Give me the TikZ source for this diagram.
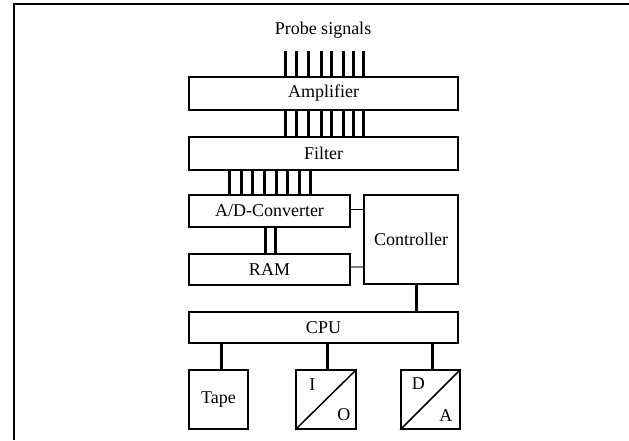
\documentclass[tikz,border=0pt]{standalone}
\usepackage{fontspec}
\setmainfont{Liberation Serif}
\begin{document}
\begin{tikzpicture}[x=1pt,y=-1pt,
  box/.style={draw,line width=1.5pt,inner sep=0pt,font=\fontsize{18}{20}\selectfont},
  lbl/.style={inner sep=0pt,font=\fontsize{18}{20}\selectfont},
  bus/.style={line width=3pt},
  thin/.style={line width=1.5pt}]
\useasboundingbox (0,0) rectangle (629,440);
% frame
\draw[line width=1.6pt] (14,440) -- (14,4) -- (629,4);
% title
\node[lbl] (title) at (323,30) {Probe signals};
% boxes
\node[box,minimum width=269pt,minimum height=33pt] (amp) at (323.5,93.5) {Amplifier};
\node[box,minimum width=269pt,minimum height=33pt] (filt) at (323.5,153.5) {Filter};
\node[box,minimum width=161pt,minimum height=32pt] (ad) at (269.5,211) {A/D-Converter};
\node[box,minimum height=31pt,minimum width=161pt] (ram) at (269.5,269.5) {RAM};
\node[box,minimum width=94pt,minimum height=89pt] (ctrl) at (411,239.5) {Controller};
\node[box,minimum width=269pt,minimum height=31pt] (cpu) at (323.5,327.5) {CPU};
\node[box,minimum width=59pt,minimum height=59pt] (tape) at (218.5,399.5) {Tape};
\node[box,minimum width=60pt,minimum height=59pt] (io) at (326,399.5) {};
\node[box,minimum width=59pt,minimum height=59pt] (da) at (430.5,399.5) {};
% diagonals and letters
\draw[thin] (io.south west) -- (io.north east);
\draw[thin] (da.south west) -- (da.north east);
\node[lbl] (li) at ([shift={(17pt,-15pt)}]io.north west) {I};
\node[lbl] (lo) at ([shift={(-13pt,15pt)}]io.south east) {O};
\node[lbl] (ld) at ([shift={(18pt,-14pt)}]da.north west) {D};
\node[lbl] (la) at ([shift={(-15pt,14pt)}]da.south east) {A};
% probe signal lines
\foreach \x in {97,108,120.5,133,143,155,165.5,175.5}{
  \coordinate (p) at ([xshift=\x pt,yshift=25pt]amp.north west);
  \draw[bus] (p) -- (p |- amp.north);
}
% amplifier to filter
\foreach \x in {97,108,120.5,133,143,155,165.5,175.5}{
  \draw[bus] ([xshift=\x pt]amp.south west) -- ([xshift=\x pt]filt.north west);
}
% filter to A/D
\foreach \x in {41,53,64,76,88,99,111,122}{
  \draw[bus] ([xshift=\x pt]filt.south west) -- ([xshift=\x pt]ad.north west);
}
% A/D to RAM
\foreach \x in {77,87}{
  \draw[bus] ([xshift=\x pt]ad.south west) -- ([xshift=\x pt]ram.north west);
}
% A/D to controller
\draw[thin] ([yshift=-15pt]ad.north east) coordinate (a1) -- (a1 -| ctrl.west);
% RAM to controller
\draw[line width=2.4pt,gray] ([yshift=-14pt]ram.north east) coordinate (r1) -- (r1 -| ctrl.west);
% controller to CPU
\draw[bus] ([xshift=53pt]ctrl.south west) coordinate (c1) -- (c1 |- cpu.north);
% CPU to peripherals
\draw[bus] ([xshift=2.5pt]tape.north) coordinate (t1) -- (t1 |- cpu.south);
\draw[bus] ([xshift=1pt]io.north) coordinate (t2) -- (t2 |- cpu.south);
\draw[bus] ([xshift=1.5pt]da.north) coordinate (t3) -- (t3 |- cpu.south);
\end{tikzpicture}
\end{document}
